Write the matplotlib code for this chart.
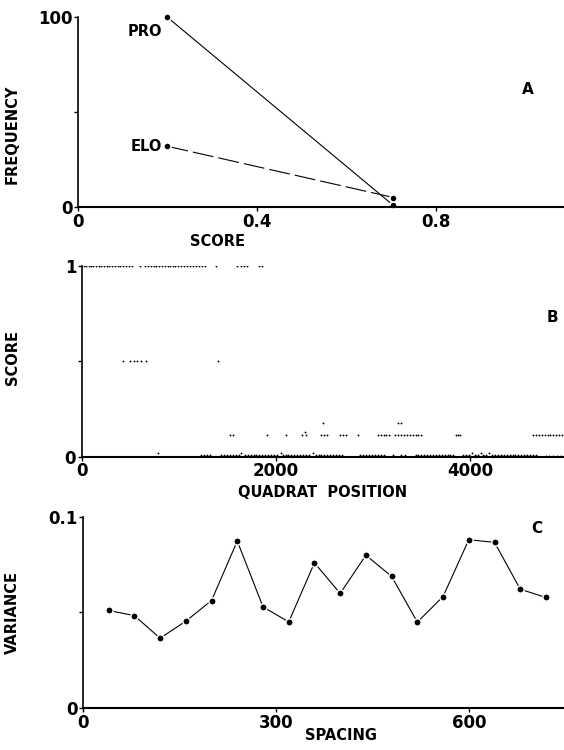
import matplotlib
matplotlib.use('Agg')
import matplotlib.pyplot as plt

plt.rcParams['font.family'] = ['DejaVu Sans']

# panel A: frequency of scores
score_a = [0.2, 0.705]
freq_pro = [100, 0.8]
freq_elo = [32, 5]

# panel B: score along the transect
pos_1 = [20, 45, 70, 95, 120, 150, 175, 200, 230, 255, 285, 310, 340, 370, 395, 420,
         455, 485, 515, 600, 650, 680, 710, 740, 770, 800, 830, 855, 885, 910, 940, 965,
         995, 1025, 1055, 1085, 1115, 1145, 1175, 1205, 1235, 1265, 1385, 1600, 1640,
         1670, 1700, 1830, 1860]
pos_half = [420, 500, 535, 565, 615, 665, 1405]
pos_017 = [2490, 3260, 3290]
pos_013 = [2300]
pos_011 = [1530, 1560, 1910, 2100, 2270, 2310, 2470, 2500, 2530, 2660, 2690, 2720,
           2850, 3050, 3080, 3110, 3140, 3170, 3230, 3260, 3290, 3320, 3350, 3380,
           3410, 3440, 3470, 3500, 3860, 3880, 3900, 4650, 4680, 4710, 4740, 4770,
           4800, 4830, 4860, 4890, 4920, 4950]
pos_002 = [790, 1640, 2050, 2380, 4020, 4110, 4200]
pos_001 = [1230, 1260, 1290, 1320, 1440, 1470, 1500, 1530, 1560, 1590, 1620, 1680,
           1710, 1740, 1770, 1800, 1830, 1860, 1890, 1920, 1950, 1980, 2010, 2070,
           2100, 2130, 2160, 2190, 2220, 2250, 2280, 2310, 2340, 2410, 2440, 2470,
           2500, 2530, 2560, 2590, 2620, 2650, 2680, 2870, 2900, 2930, 2960, 2990,
           3020, 3050, 3080, 3110, 3210, 3290, 3330, 3440, 3470, 3500, 3530, 3560,
           3590, 3620, 3650, 3680, 3710, 3740, 3770, 3800, 3830, 3930, 3960, 3990,
           4050, 4080, 4140, 4170, 4230, 4260, 4290, 4320, 4350, 4380, 4410, 4440,
           4470, 4500, 4530, 4560, 4590, 4620, 4650, 4680]
pos_000 = [4000, 4060, 4150, 4250, 4330, 4420, 4500, 4580, 4780, 4820, 4860, 4900, 4940]

# panel C: variance against spacing
spacing = [40, 80, 120, 160, 200, 240, 280, 320, 360, 400, 440, 480, 520, 560, 600,
           640, 680, 720]
variance = [0.0510, 0.0483, 0.0365, 0.0454, 0.0562, 0.0873, 0.0529, 0.0450, 0.0759,
            0.0599, 0.0799, 0.0688, 0.0449, 0.0583, 0.0880, 0.0866, 0.0621, 0.0578]

fig = plt.figure(figsize=(5.64, 7.5), dpi=100)
axA = fig.add_axes([0.138, 0.724, 0.862, 0.253])
axB = fig.add_axes([0.145, 0.391, 0.855, 0.2547])
axC = fig.add_axes([0.147, 0.056, 0.853, 0.255])

for ax in (axA, axB, axC):
    for s in ('top', 'right'):
        ax.spines[s].set_visible(False)
    ax.spines['left'].set_linewidth(1.2)
    ax.spines['bottom'].set_linewidth(1.5)
    ax.tick_params(direction='out', length=3, width=1, labelsize=12, pad=1)

lab = dict(fontsize=10.5, fontweight='bold')

# A
axA.plot(score_a, freq_pro, '-', color='k', lw=0.8, marker='o', ms=5.2,
         mfc='k', mec='white', mew=1.2, clip_on=False)
axA.plot(score_a, freq_elo, color='k', lw=0.8, dashes=(19, 4.5), marker='o', ms=5.2,
         mfc='k', mec='white', mew=1.2, clip_on=False)
axA.annotate('PRO', (score_a[0], freq_pro[0]), xytext=(-4, -10), textcoords='offset points',
             ha='right', va='center', **lab)
axA.annotate('ELO', (score_a[0], freq_elo[0]), xytext=(-4, 0), textcoords='offset points',
             ha='right', va='center', **lab)
axA.set_xlim(0, 1.086)
axA.set_ylim(0, 100)
axA.set_xticks([0, 0.4, 0.8])
axA.set_xticklabels(['0', '0.4', '0.8'], fontweight='bold')
axA.set_yticks([0, 50, 100])
axA.set_yticklabels(['0', '', '100'], fontweight='bold')
axA.set_ylabel('FREQUENCY', **lab)
axA.set_xlabel('SCORE', **lab)
axA.yaxis.set_label_coords(-0.119, 0.384)
axA.xaxis.set_label_coords(0.288, -0.142)
axA.text(0.926, 0.621, 'A', transform=axA.transAxes, ha='center', va='center', fontsize=11,
         fontweight='bold')

# B
dot = dict(color='k', s=1.8, linewidths=0)
axB.scatter(pos_1, [1.0] * len(pos_1), **dot)
axB.scatter(pos_half, [0.5] * len(pos_half), **dot)
axB.scatter(pos_017, [0.175] * len(pos_017), **dot)
axB.scatter(pos_013, [0.13] * len(pos_013), **dot)
axB.scatter(pos_011, [0.112] * len(pos_011), **dot)
axB.scatter(pos_002, [0.02] * len(pos_002), **dot)
axB.scatter(pos_001, [0.01] * len(pos_001), **dot)
axB.scatter(pos_000, [0.003] * len(pos_000), **dot)
axB.set_xlim(0, 4970)
axB.set_ylim(0, 1)
axB.set_xticks([0, 2000, 4000])
axB.set_xticklabels(['0', '2000', '4000'], fontweight='bold')
axB.set_yticks([0, 0.5, 1])
axB.set_yticklabels(['0', '', '1'], fontweight='bold')
axB.set_ylabel('SCORE', **lab)
axB.set_xlabel('QUADRAT  POSITION', **lab)
axB.yaxis.set_label_coords(-0.129, 0.52)
axB.xaxis.set_label_coords(0.5, -0.147)
axB.text(0.977, 0.728, 'B', transform=axB.transAxes, ha='center', va='center', fontsize=11,
         fontweight='bold')

# C
axC.plot(spacing, variance, '-', color='k', lw=0.8, marker='o', ms=5.2,
         mfc='k', mec='white', mew=1.0)
axC.set_xlim(0, 748)
axC.set_ylim(0, 0.1)
axC.set_xticks([0, 300, 600])
axC.set_xticklabels(['0', '300', '600'], fontweight='bold')
axC.set_yticks([0, 0.05, 0.1])
axC.set_yticklabels(['0', '', '0.1'], fontweight='bold')
axC.set_ylabel('VARIANCE', **lab)
axC.set_xlabel('SPACING', **lab)
axC.yaxis.set_label_coords(-0.131, 0.5)
axC.xaxis.set_label_coords(0.536, -0.104)
axC.text(0.944, 0.937, 'C', transform=axC.transAxes, ha='center', va='center', fontsize=11,
         fontweight='bold')

fig.savefig('out.png', dpi=100)
